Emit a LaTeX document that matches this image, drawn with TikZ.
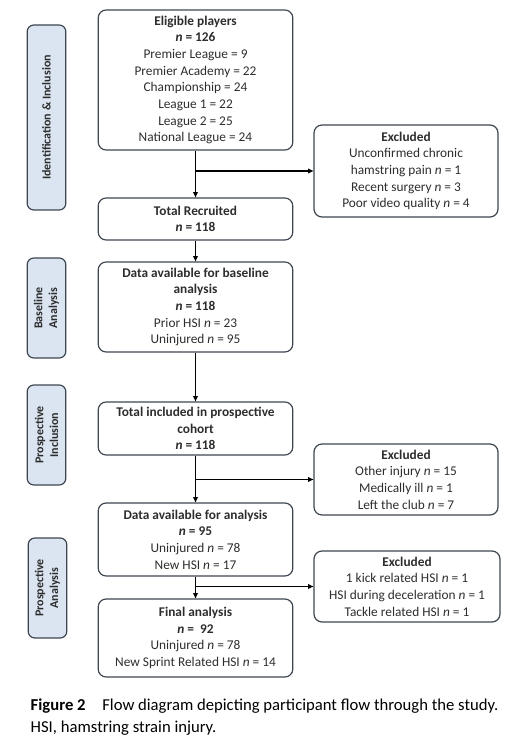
\documentclass[tikz,border=0pt]{standalone}
\usepackage{fontspec}
\setmainfont{Carlito}
\usetikzlibrary{positioning,arrows.meta}
\definecolor{edge}{RGB}{62,70,80}
\definecolor{tabfill}{RGB}{219,229,241}
\definecolor{txt}{RGB}{45,45,45}

\begin{document}
\begin{tikzpicture}[x=0.75pt,y=-0.75pt,
    every node/.style={align=center, text=txt, font=\fontsize{10}{12.5}\selectfont},
    box/.style={draw=edge, rounded corners=6pt, line width=0.9pt, inner sep=0pt, minimum width=146pt},
    exbox/.style={box, minimum width=138pt},
    tab/.style={draw=edge, fill=tabfill, rounded corners=5pt, line width=0.9pt, inner sep=0pt,
        minimum height=29pt, rotate=90, font=\fontsize{9}{11}\selectfont\bfseries},
    flow/.style={-{Triangle[length=4pt,width=3.5pt]}, line width=0.9pt}]
    \useasboundingbox (0,0) rectangle (518,741);

    % main column
    \node[box, minimum height=105pt] (elig) at (195.5,80) {\textbf{Eligible players}\\\textbf{\textit{n} = 126}\\Premier League = 9\\Premier Academy = 22\\Championship = 24\\League 1 = 22\\League 2 = 25\\National League = 24};
    \node[box, minimum height=31.5pt] (recr) at (195.5,219) {\textbf{Total Recruited}\\\textbf{\textit{n} = 118}};
    \node[box, minimum height=67.5pt] (base) at (195.5,307) {\textbf{Data available for baseline}\\\textbf{analysis}\\\textbf{\textit{n} = 118}\\Prior HSI \textit{n} = 23\\Uninjured \textit{n} = 95};
    \node[box, minimum height=39.75pt] (incl) at (195.5,428.5) {\textbf{Total included in prospective}\\\textbf{cohort}\\\textbf{\textit{n} = 118}};
    \node[box, minimum height=54.75pt] (avail) at (195.5,539.5) {\textbf{Data available for analysis}\\\textbf{\textit{n} = 95}\\Uninjured \textit{n} = 78\\New HSI \textit{n} = 17};
    \node[box, minimum height=58.5pt] (final) at (195.5,638) {\textbf{Final analysis}\\\textbf{\textit{n} =\ \ 92}\\Uninjured \textit{n} = 78\\New Sprint Related HSI \textit{n} = 14};

    % excluded
    \node[exbox, minimum height=69pt] (exc1) at (406,171) {\textbf{Excluded}\\Unconfirmed chronic\\hamstring pain \textit{n} = 1\\Recent surgery \textit{n} = 3\\Poor video quality \textit{n} = 4};
    \node[exbox, minimum height=53.25pt] (exc2) at (406,479.5) {\textbf{Excluded}\\Other injury \textit{n} = 15\\Medically ill \textit{n} = 1\\Left the club \textit{n} = 7};
    \node[exbox, minimum width=139.5pt, minimum height=53.25pt] (exc3) at (407,586.5) {\textbf{Excluded}\\1 kick related HSI \textit{n} = 1\\HSI during deceleration \textit{n} = 1\\Tackle related HSI \textit{n} = 1};

    % stage tabs
    \node[tab, minimum width=138.75pt] (t1) at (46.5,117.5) {Identification \& Inclusion};
    \node[tab, minimum width=75pt] (t2) at (46.5,308) {Baseline\\Analysis};
    \node[tab, minimum width=75pt] (t3) at (46.5,435) {Prospective\\Inclusion};
    \node[tab, minimum width=75pt] (t4) at (47.5,588) {Prospective\\Analysis};

    \foreach \from/\to in {elig/recr, recr/base, base/incl, incl/avail, avail/final}
        \draw[flow] (\from) -- (\to);
    \foreach \from/\to in {elig/exc1, incl/exc2, avail/exc3}
        \draw[flow] (\from.south |- \to.west) -- (\to.west);

    \node[anchor=north west, align=left, text=black, font=\fontsize{12.5}{16.25}\selectfont] (cap) at (26,694)
        {\textbf{Figure 2}\quad Flow diagram depicting participant flow through the study.\\HSI, hamstring strain injury.};
\end{tikzpicture}
\end{document}
